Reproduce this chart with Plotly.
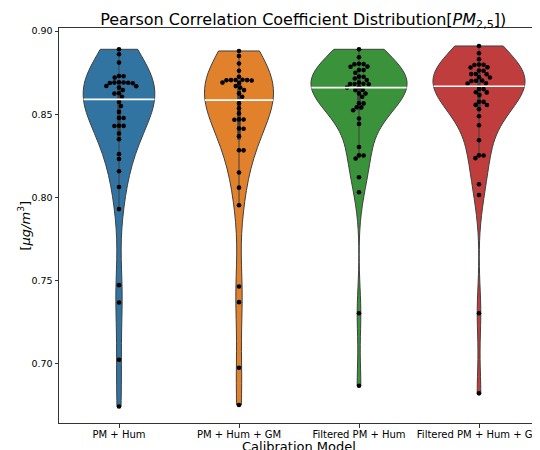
import numpy as np
import plotly.graph_objects as go

categories = ["PM + Hum", "PM + Hum + GM", "Filtered PM + Hum", "Filtered PM + Hum + GM"]

pm_hum = [0.889, 0.886, 0.881, 0.873, 0.8728, 0.872, 0.8692, 0.8688, 0.869, 0.8686, 0.8691,
          0.8689, 0.867, 0.8668, 0.866, 0.8645, 0.8626, 0.8624, 0.8605, 0.8574, 0.8549,
          0.8514, 0.8478, 0.8477, 0.843, 0.8431, 0.8429, 0.8384, 0.835, 0.826, 0.8231,
          0.8157, 0.8063, 0.793, 0.7473, 0.7369, 0.7025, 0.6744]
pm_hum_gm = [0.888, 0.885, 0.8805, 0.8761, 0.8725, 0.8707, 0.8706, 0.8705, 0.8704, 0.8703,
             0.8705, 0.869, 0.8688, 0.866, 0.8669, 0.8645, 0.8625, 0.8605, 0.8565, 0.8535,
             0.8505, 0.8468, 0.8467, 0.8469, 0.8414, 0.8413, 0.8368, 0.8284, 0.8283, 0.815,
             0.8059, 0.7953, 0.7465, 0.7371, 0.6977, 0.6753]
filt_pm_hum = [0.889, 0.8842, 0.8801, 0.8800, 0.8803, 0.8785, 0.8786, 0.8765, 0.8766, 0.8749,
               0.8725, 0.8726, 0.8705, 0.8681, 0.8682, 0.8680, 0.8683, 0.8715, 0.869,
               0.8662, 0.8660, 0.8645, 0.8646, 0.8625, 0.8624, 0.8605, 0.8565, 0.8566,
               0.8541, 0.8542, 0.8524, 0.8474, 0.8442, 0.8303, 0.8252, 0.8253, 0.8234,
               0.8121, 0.8031, 0.7304, 0.6869]
filt_pm_hum_gm = [0.891, 0.8866, 0.883, 0.8797, 0.8798, 0.8796, 0.8781, 0.8782, 0.8761, 0.8762,
                  0.8741, 0.8742, 0.8740, 0.8721, 0.8722, 0.8701, 0.8702, 0.8700, 0.8685, 0.8686,
                  0.8651, 0.8652, 0.8631, 0.8632, 0.8615, 0.8574, 0.8575, 0.8555, 0.8556, 0.853,
                  0.8488, 0.8434, 0.8344, 0.8252, 0.8253, 0.8236, 0.8079, 0.8015, 0.7304, 0.6823]

series = [pm_hum, pm_hum_gm, filt_pm_hum, filt_pm_hum_gm]
fill_colors = ["#3274a1", "#e1812c", "#3a923a", "#c03d3e"]
y_ticks = [0.70, 0.75, 0.80, 0.85, 0.90]

# the page body adds an 8px offset; figure is sized to fill the rest of the window
FIG_W, FIG_H = 532, 442
M_L, M_R, M_T, M_B = 51, 1, 20, 27
Y_RANGE = [0.6645, 0.9018]
X_RANGE = [-0.5, 3.5]
PLOT_W, PLOT_H = FIG_W - M_L - M_R, FIG_H - M_T - M_B
SX = PLOT_W / (X_RANGE[1] - X_RANGE[0])
SY = PLOT_H / (Y_RANGE[1] - Y_RANGE[0])
EDGE = "#3f3f3f"
BW_ADJUST = 0.8


def kde(vals, bw, grid):
    v = np.asarray(vals)
    z = (grid[:, None] - v[None, :]) / bw
    return np.exp(-0.5 * z ** 2).sum(axis=1) / (len(v) * bw * np.sqrt(2 * np.pi))


def swarm(vals, d_px):
    vals = np.asarray(vals)
    order = np.argsort(vals)[::-1]
    placed = []
    offs = np.zeros(len(vals))
    for idx in order:
        y = vals[idx] * SY
        cands = [0.0]
        for (px, py) in placed:
            dy = abs(py - y)
            if dy < d_px:
                dx = np.sqrt(d_px ** 2 - dy ** 2)
                cands += [px + dx, px - dx]
        cands = sorted(cands, key=abs)
        chosen = cands[-1]
        for c in cands:
            if all((c - px) ** 2 + (y - py) ** 2 >= d_px ** 2 - 1e-6 for px, py in placed):
                chosen = c
                break
        placed.append((chosen, y))
        offs[idx] = chosen / SX
    return offs


info = []
for vals in series:
    v = np.asarray(vals)
    bw = BW_ADJUST * np.std(v, ddof=1) * len(v) ** (-0.2)
    grid = np.linspace(v.min(), v.max(), 600)
    dens = kde(v, bw, grid)
    info.append((bw, dens.max()))
global_max = max(m for _, m in info)

fig = go.Figure()
for i, vals in enumerate(series):
    v = np.asarray(vals)
    bw, dmax = info[i]
    width = 0.8 * dmax / global_max
    fig.add_trace(go.Violin(
        x0=i, y=v, bandwidth=bw, spanmode="hard", width=width,
        fillcolor=fill_colors[i], line=dict(color=EDGE, width=1),
        opacity=1, points=False, scalemode="width", hoverinfo="skip",
        box_visible=False, meanline_visible=False, name=categories[i]))

for i, vals in enumerate(series):
    v = np.asarray(vals)
    q1, med, q3 = np.percentile(v, [25, 50, 75])
    iqr = q3 - q1
    h1 = v[v >= q1 - 1.5 * iqr].min()
    h2 = v[v <= q3 + 1.5 * iqr].max()
    fig.add_trace(go.Scatter(x=[i, i], y=[h1, h2], mode="lines",
                             line=dict(color=EDGE, width=1), hoverinfo="skip"))
    fig.add_trace(go.Scatter(x=[i, i], y=[q1, q3], mode="lines",
                             line=dict(color=EDGE, width=3.5), hoverinfo="skip"))

for i, vals in enumerate(series):
    v = np.asarray(vals)
    offs = swarm(v, 4.6)
    fig.add_trace(go.Scatter(x=i + offs, y=v, mode="markers",
                             marker=dict(color="black", size=4.6, line=dict(width=0)),
                             hoverinfo="skip"))

for i, vals in enumerate(series):
    v = np.asarray(vals)
    bw, dmax = info[i]
    width = 0.8 * dmax / global_max
    med = np.median(v)
    hw = width / 2 * kde(v, bw, np.array([med]))[0] / dmax
    fig.add_trace(go.Scatter(x=[i - hw, i + hw], y=[med, med], mode="lines",
                             line=dict(color="white", width=1.6), hoverinfo="skip"))

fig.update_layout(
    width=FIG_W, height=FIG_H,
    margin=dict(l=M_L, r=M_R, t=M_T, b=M_B),
    plot_bgcolor="white", paper_bgcolor="white",
    showlegend=False,
    font=dict(family="DejaVu Sans", color="black"),
    title=dict(text="Pearson Correlation Coefficient Distribution[<i>PM</i><sub>2,5</sub>])",
               x=0.555, xanchor="center", y=1 - 11 / FIG_H, yanchor="middle", yref="container",
               font=dict(size=16, color="black")),
    annotations=[
        dict(text="Calibration Model", xref="paper", yref="paper",
             x=0.5, y=-(23 / PLOT_H), xanchor="center", yanchor="middle",
             showarrow=False, font=dict(size=13, color="black")),
        dict(text="[<i>μg/m</i><sup>3</sup>]", xref="paper", yref="paper",
             x=-(35 / PLOT_W), y=0.5, xanchor="center", yanchor="middle", textangle=-90,
             showarrow=False, font=dict(size=13, color="black")),
    ],
)
fig.update_xaxes(range=X_RANGE, tickvals=list(range(len(categories))), ticktext=categories,
                 ticks="outside", ticklen=3.5, tickcolor="#333", tickfont=dict(size=10),
                 ticklabeloverflow="allow", ticklabelstandoff=-2,
                 showline=True, mirror=True, linecolor="#333", linewidth=1,
                 showgrid=False, zeroline=False, automargin=False)
fig.update_yaxes(range=Y_RANGE, tickvals=y_ticks, tickformat=".2f",
                 ticks="outside", ticklen=3.5, tickcolor="#333", tickfont=dict(size=9.5),
                 showline=True, mirror=True, linecolor="#333", linewidth=1,
                 showgrid=False, zeroline=False, automargin=False)

fig.write_html("out.html")
